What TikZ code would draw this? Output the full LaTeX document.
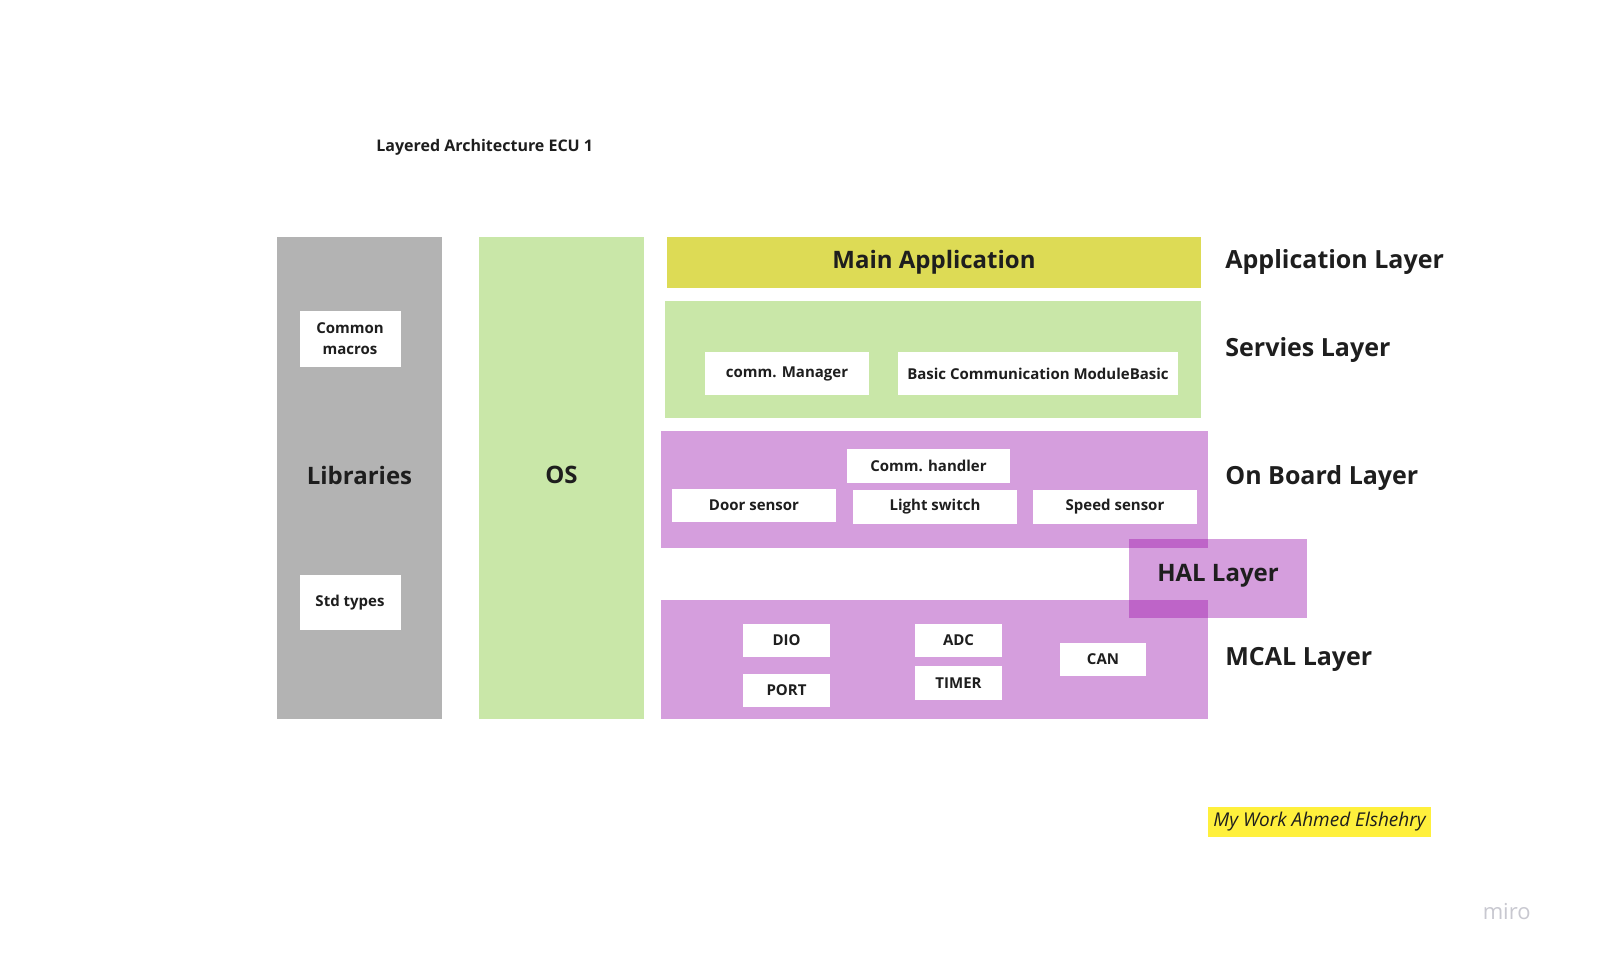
\documentclass[tikz,border=0pt]{standalone}
\usepackage{fontspec}
\setmainfont{Open Sans}
\definecolor{libgray}{HTML}{B3B3B3}
\definecolor{osgreen}{HTML}{C9E7A8}
\definecolor{appyel}{HTML}{DDDB55}
\definecolor{purp}{HTML}{D59EDD}
\definecolor{purpdark}{HTML}{BE64C8}
\definecolor{signyel}{HTML}{FFF03C}
\definecolor{txt}{HTML}{1E1E1E}
\definecolor{mirogray}{HTML}{C8C8D0}
\begin{document}
\begin{tikzpicture}[x=0.5pt,y=-0.5pt,
  area/.style={rectangle, draw=none, inner sep=0pt, text=txt, font=\fontsize{12}{14}\selectfont\bfseries},
  item/.style={rectangle, fill=white, draw=none, inner sep=0pt, text=txt, align=center, font=\fontsize{7.5}{10.5}\selectfont\bfseries},
  layerlabel/.style={anchor=west, inner sep=0pt, text=txt, font=\fontsize{12.5}{15}\selectfont\bfseries}]
\useasboundingbox (0,0) rectangle (1600,976);
\fill[white] (0,0) rectangle (1600,976);

% title
\node[inner sep=0pt, text=txt, font=\fontsize{8}{10}\selectfont\bfseries, anchor=west] (title) at (376,147) {Layered Architecture ECU 1};

% columns
\node[area, fill=libgray, minimum width=82.5pt, minimum height=241pt] (lib) at (359.5,478) {};
\node[area] (libtxt) at (359.5,475) {Libraries};
\node[area, fill=osgreen, minimum width=82.5pt, minimum height=241pt] (os) at (561.5,478) {};
\node[area] (ostxt) at (561.5,475) {OS};

\node[item, minimum width=50.5pt, minimum height=28pt] (cm) at (350,339) {Common\\macros};
\node[item, minimum width=50.5pt, minimum height=27.5pt] (std) at (350,602.5) {Std types};

% application layer
\node[area, fill=appyel, minimum width=267pt, minimum height=25.5pt] (app) at (934,262.5) {Main Application};

% services layer
\node[area, fill=osgreen, minimum width=268pt, minimum height=58.5pt] (serv) at (933,359.5) {};
\node[item, minimum width=82pt, minimum height=21.5pt] (cmgr) at (787,373.5) {comm. Manager};
\node[item, minimum width=140pt, minimum height=21.5pt] (bcm) at (1038,373.5) {Basic Communication ModuleBasic};

% on board layer
\node[area, fill=purp, minimum width=273.5pt, minimum height=58.5pt] (onb) at (934.5,489.5) {};
\node[item, minimum width=81.5pt, minimum height=17pt] (ch) at (928.5,466) {Comm. handler};
\node[item, minimum width=82pt, minimum height=16.5pt] (door) at (754,505.5) {Door sensor};
\node[item, minimum width=82pt, minimum height=17pt] (light) at (935,507) {Light switch};
\node[item, minimum width=82pt, minimum height=17pt] (speed) at (1115,507) {Speed sensor};

% MCAL layer
\node[area, fill=purp, minimum width=273.5pt, minimum height=59.5pt] (mcal) at (934.5,659.5) {};
\node[item, minimum width=43.5pt, minimum height=16.5pt] (dio) at (786.5,640.5) {DIO};
\node[item, minimum width=43.5pt, minimum height=16.5pt] (port) at (786.5,690.5) {PORT};
\node[item, minimum width=43.5pt, minimum height=16.5pt] (adc) at (958.5,640.5) {ADC};
\node[item, minimum width=43.5pt, minimum height=17pt] (timer) at (958.5,683) {TIMER};
\node[item, minimum width=43pt, minimum height=16.5pt] (can) at (1103,659.5) {CAN};

% HAL layer
\node[area, fill=purp, minimum width=89pt, minimum height=39.5pt] (hal) at (1218,578.5) {};
\fill[purpdark] (1129,539) rectangle (1208,548);
\fill[purpdark] (1129,600) rectangle (1208,618);
\node[area] (haltxt) at (1218,576) {HAL Layer};

% layer labels
\node[layerlabel] (lapp) at (1225,262) {Application Layer};
\node[layerlabel] (lserv) at (1225,350) {Servies Layer};
\node[layerlabel] (lonb) at (1225,478) {On Board Layer};
\node[layerlabel] (lmcal) at (1225,659) {MCAL Layer};

% signature
\node[rectangle, fill=signyel, minimum width=111.5pt, minimum height=15pt, inner sep=0pt] (sign) at (1319.5,822) {};
\node[inner sep=0pt, text=txt, font=\fontsize{9.5}{11}\selectfont\itshape] (signtxt) at (1319.5,822) {My Work Ahmed Elshehry};

% miro
\node[inner sep=0pt, text=mirogray, font=\fontsize{11}{13}\selectfont, anchor=east] (miro) at (1531,912) {miro};
\end{tikzpicture}
\end{document}
